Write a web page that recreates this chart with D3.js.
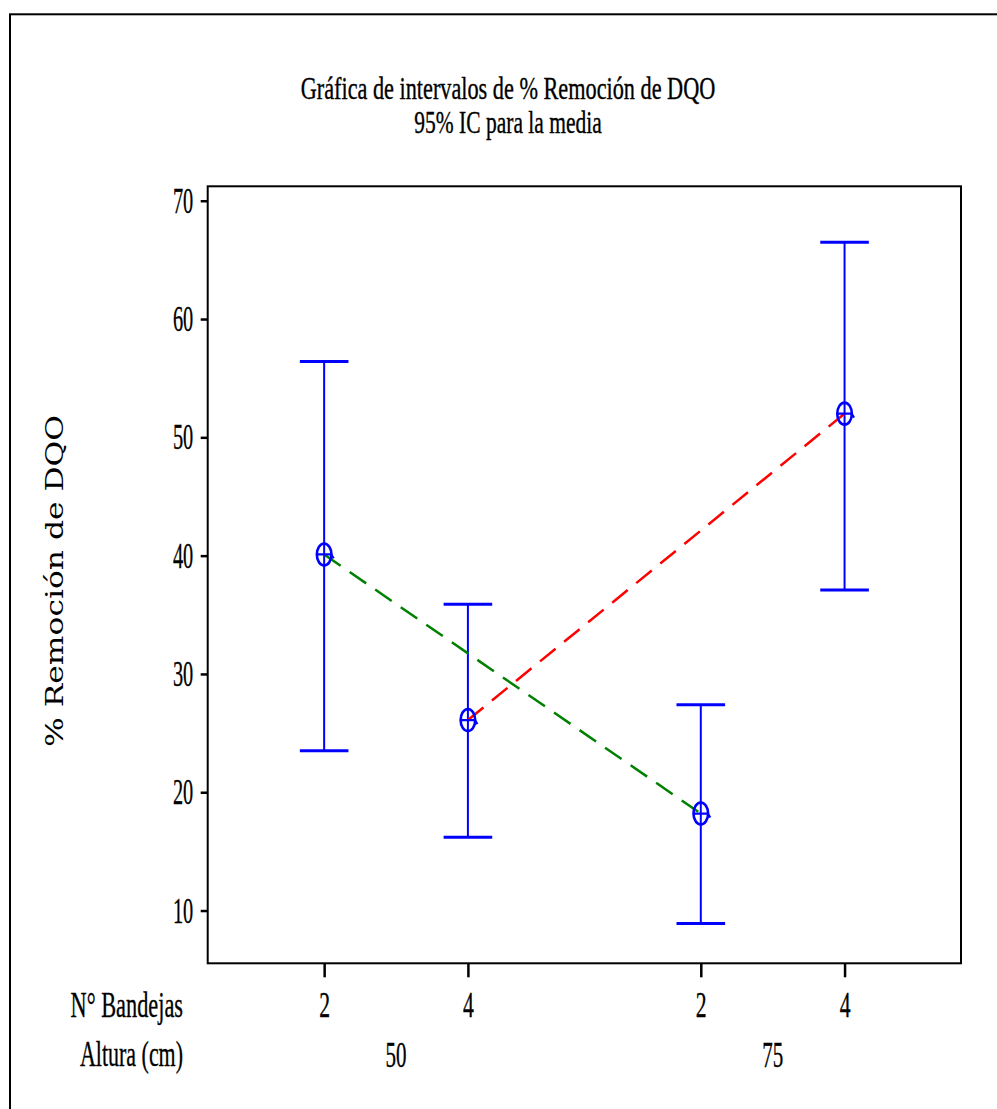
<!DOCTYPE html>
<html>
<head>
<meta charset="utf-8">
<script src="https://cdn.jsdelivr.net/npm/d3@7"></script>
<style>
  html, body { margin: 0; padding: 0; background: #fff; }
  svg { display: block; }
  .serif { font-family: "Liberation Serif", "Times New Roman", serif; fill: #000; stroke: #000; stroke-width: 0.35; }
</style>
</head>
<body>
<svg id="chart" width="997" height="1109"></svg>
<script>
// Interval plot: 95% CI for the mean of % COD removal, by height and number of trays
const title1 = "Gráfica de intervalos de % Remoción de DQO";
const title2 = "95% IC para la media";
const yLabel = "% Remoción de DQO";
const rowLabelTrays = "N° Bandejas";
const rowLabelHeight = "Altura (cm)";

const heights = ["50", "50", "75", "75"];     // Altura (cm)
const trays   = ["2", "4", "2", "4"];         // N° Bandejas
const means   = [40.1, 26.1, 18.2, 52.0];
const lower   = [23.5, 16.2, 8.9, 37.1];
const upper   = [56.4, 35.9, 27.4, 66.5];
const yTicks  = [10, 20, 30, 40, 50, 60, 70];

const svg = d3.select("#chart");

// outer figure frame (runs past the right and bottom edges)
svg.append("rect")
  .attr("x", 10).attr("y", 14.3)
  .attr("width", 1100).attr("height", 1200)
  .attr("fill", "none").attr("stroke", "#000").attr("stroke-width", 2);

// category slots: groups of height separated by a wider gap
const groupNames = Array.from(new Set(heights));
const groupGap = 0.62;
const slot = heights.map((h, i) => i + groupNames.indexOf(h) * groupGap);

const plot = { left: 207.7, right: 961, top: 186.3, bottom: 963.3 };

const x = d3.scaleLinear()
  .domain([-0.81, 4.43])
  .range([plot.left, plot.right]);

const y = d3.scaleLinear()
  .domain([5.54, 71.22])
  .range([plot.bottom, plot.top]);

// titles
const titleX = 508;
svg.append("text").attr("class", "serif")
  .attr("transform", `translate(${titleX},98.5) scale(0.73,1)`)
  .attr("text-anchor", "middle").attr("font-size", 30.5)
  .text(title1);
svg.append("text").attr("class", "serif")
  .attr("transform", `translate(${titleX},133) scale(0.705,1)`)
  .attr("text-anchor", "middle").attr("font-size", 30.5)
  .text(title2);

// y axis
const yAxis = svg.append("g")
  .attr("transform", `translate(${plot.left},0)`)
  .call(d3.axisLeft(y).tickValues(yTicks).tickSize(7).tickFormat(d3.format("d")));
yAxis.select(".domain").remove();
yAxis.selectAll(".tick line").attr("stroke", "#000").attr("stroke-width", 2.5);
yAxis.selectAll(".tick text")
  .attr("class", "serif")
  .attr("x", null).attr("dy", null)
  .attr("transform", "translate(-14.5,11.5) scale(0.58,1)")
  .attr("text-anchor", "end")
  .attr("font-size", 35)
  .attr("font-family", null);

// x axis
const xAxis = svg.append("g")
  .attr("transform", `translate(0,${plot.bottom})`)
  .call(d3.axisBottom(x).tickValues(slot).tickSize(14).tickFormat((d, i) => trays[i]));
xAxis.select(".domain").remove();
xAxis.selectAll(".tick line").attr("stroke", "#000").attr("stroke-width", 2.5);
xAxis.selectAll(".tick text")
  .attr("class", "serif")
  .attr("y", null).attr("dy", null)
  .attr("transform", "translate(0,54) scale(0.62,1)")
  .attr("text-anchor", "middle")
  .attr("font-size", 35)
  .attr("font-family", null);

// plot frame
svg.append("rect")
  .attr("x", plot.left).attr("y", plot.top)
  .attr("width", plot.right - plot.left).attr("height", plot.bottom - plot.top)
  .attr("fill", "none").attr("stroke", "#000").attr("stroke-width", 2);

// group labels (Altura) centred under each group
groupNames.forEach(g => {
  const xs = slot.filter((s, i) => heights[i] === g).map(x);
  svg.append("text").attr("class", "serif")
    .attr("transform", `translate(${d3.mean(xs)},1067) scale(0.6,1)`)
    .attr("text-anchor", "middle").attr("font-size", 35)
    .text(g);
});

// row labels
svg.append("text").attr("class", "serif")
  .attr("transform", "translate(183,1017) scale(0.62,1)")
  .attr("text-anchor", "end").attr("font-size", 36)
  .text(rowLabelTrays);
svg.append("text").attr("class", "serif")
  .attr("transform", "translate(183,1066) scale(0.61,1)")
  .attr("text-anchor", "end").attr("font-size", 36)
  .text(rowLabelHeight);

// y axis title, stretched along its length
svg.append("text")
  .attr("transform", "translate(63,581) rotate(-90)")
  .attr("text-anchor", "middle")
  .attr("font-family", "'DejaVu Serif', serif")
  .attr("font-size", 25)
  .attr("textLength", 332)
  .attr("lengthAdjust", "spacingAndGlyphs")
  .attr("fill", "#000")
  .text(yLabel);

// error bars
const blue = "#0000ff";
const capHalf = 24.3;
const bars = svg.append("g");
means.forEach((m, i) => {
  const cx = x(slot[i]);
  bars.append("line")
    .attr("x1", cx).attr("x2", cx)
    .attr("y1", y(upper[i])).attr("y2", y(lower[i]))
    .attr("stroke", blue).attr("stroke-width", 2);
  [upper[i], lower[i]].forEach(v => {
    bars.append("line")
      .attr("x1", cx - capHalf).attr("x2", cx + capHalf)
      .attr("y1", y(v)).attr("y2", y(v))
      .attr("stroke", blue).attr("stroke-width", 3);
  });
});

// connecting lines for each tray count across heights
const lineColors = { "2": "#008000", "4": "#ff0000" };
const trayNames = Array.from(new Set(trays));
const lineGen = d3.line().x(d => x(slot[d])).y(d => y(means[d]));
trayNames.forEach(t => {
  const idx = d3.range(means.length).filter(i => trays[i] === t);
  svg.append("path")
    .attr("d", lineGen(idx))
    .attr("fill", "none")
    .attr("stroke", lineColors[t])
    .attr("stroke-width", 2.5)
    .attr("stroke-dasharray", "20,11");
});

// mean symbols
means.forEach((m, i) => {
  const cx = x(slot[i]), cy = y(m);
  const g = svg.append("g").attr("transform", `translate(${cx},${cy})`);
  g.append("ellipse")
    .attr("rx", 7.3).attr("ry", 11)
    .attr("fill", "none").attr("stroke", blue).attr("stroke-width", 2.6);
  g.append("path")
    .attr("d", "M-7.5,0H8M7,0L9.5,4")
    .attr("fill", "none").attr("stroke", blue).attr("stroke-width", 2.2);
});
</script>
</body>
</html>
